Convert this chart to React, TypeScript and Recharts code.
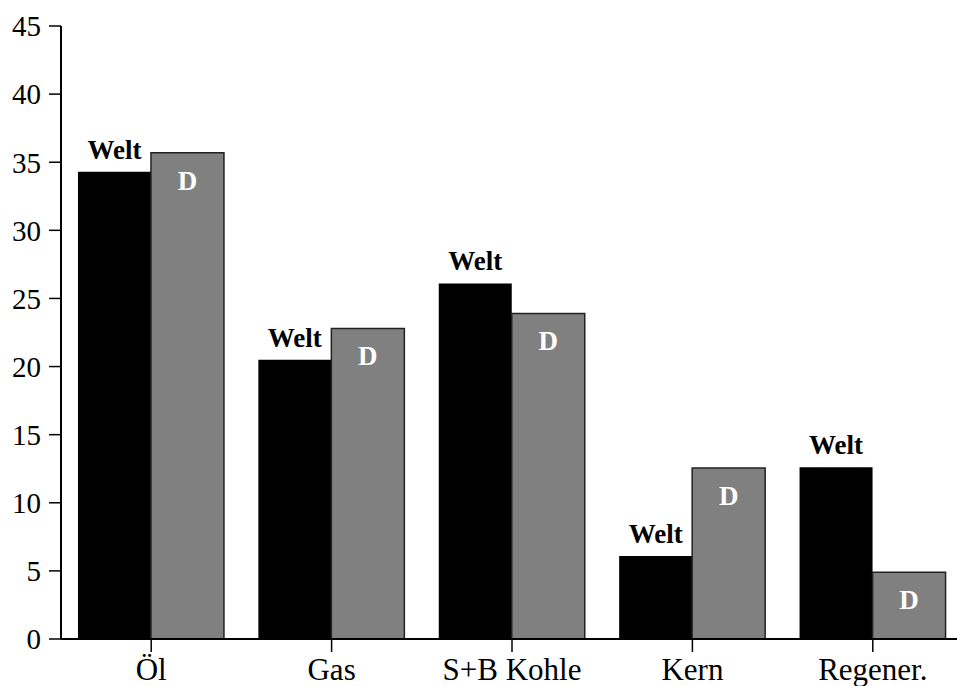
import { BarChart, Bar, XAxis, YAxis, LabelList } from 'recharts';

const categories = ['Öl', 'Gas', 'S+B Kohle', 'Kern', 'Regener.'];
const welt = [34.3, 20.5, 26.1, 6.1, 12.6];
const deutschland = [35.7, 22.8, 23.9, 12.55, 4.9];
const yTicks = [0, 5, 10, 15, 20, 25, 30, 35, 40, 45];

const data = categories.map((name, i) => ({ name, welt: welt[i], d: deutschland[i] }));

const FONT = 'Liberation Serif, Times New Roman, serif';

const weltLabel = (props: any) => {
  const { x, y, width } = props;
  return (
    <text x={x + width / 2} y={y - 13} textAnchor="middle" style={{ fontFamily: FONT }} fontWeight="bold" fontSize={27} fill="#000">
      Welt
    </text>
  );
};

const dLabel = (props: any) => {
  const { x, y, width } = props;
  return (
    <text x={x + width / 2} y={y + 37} textAnchor="middle" style={{ fontFamily: FONT }} fontWeight="bold" fontSize={27} fill="#fff">
      D
    </text>
  );
};

export default function App() {
  return (
    <div style={{ position: 'absolute', left: 0, top: 0, width: 957, height: 686, overflow: 'hidden', background: '#fff', fontFamily: FONT }}>
      <BarChart
        width={972}
        height={686}
        data={data}
        margin={{ top: 26, right: 9, bottom: 0, left: 0 }}
        barCategoryGap="9.4%"
        barGap={0}
        style={{ fontFamily: FONT }}
      >
        <XAxis
          dataKey="name"
          height={47}
          tickSize={13}
          tickMargin={6}
          axisLine={{ stroke: '#000', strokeWidth: 2 }}
          tickLine={{ stroke: '#000', strokeWidth: 1.5 }}
          tick={{ fill: '#000', fontSize: 31, style: { fontFamily: FONT } }}
        />
        <YAxis
          width={61}
          domain={[0, 45]}
          ticks={yTicks}
          interval={0}
          tickSize={12}
          tickMargin={8}
          axisLine={{ stroke: '#000', strokeWidth: 2 }}
          tickLine={{ stroke: '#000', strokeWidth: 1.5 }}
          tick={{ fill: '#000', fontSize: 29, style: { fontFamily: FONT } }}
        />
        <Bar dataKey="welt" fill="#000" isAnimationActive={false}>
          <LabelList dataKey="welt" content={weltLabel} />
        </Bar>
        <Bar dataKey="d" fill="#808080" stroke="#222" strokeWidth={1.5} isAnimationActive={false}>
          <LabelList dataKey="d" content={dLabel} />
        </Bar>
      </BarChart>
    </div>
  );
}
